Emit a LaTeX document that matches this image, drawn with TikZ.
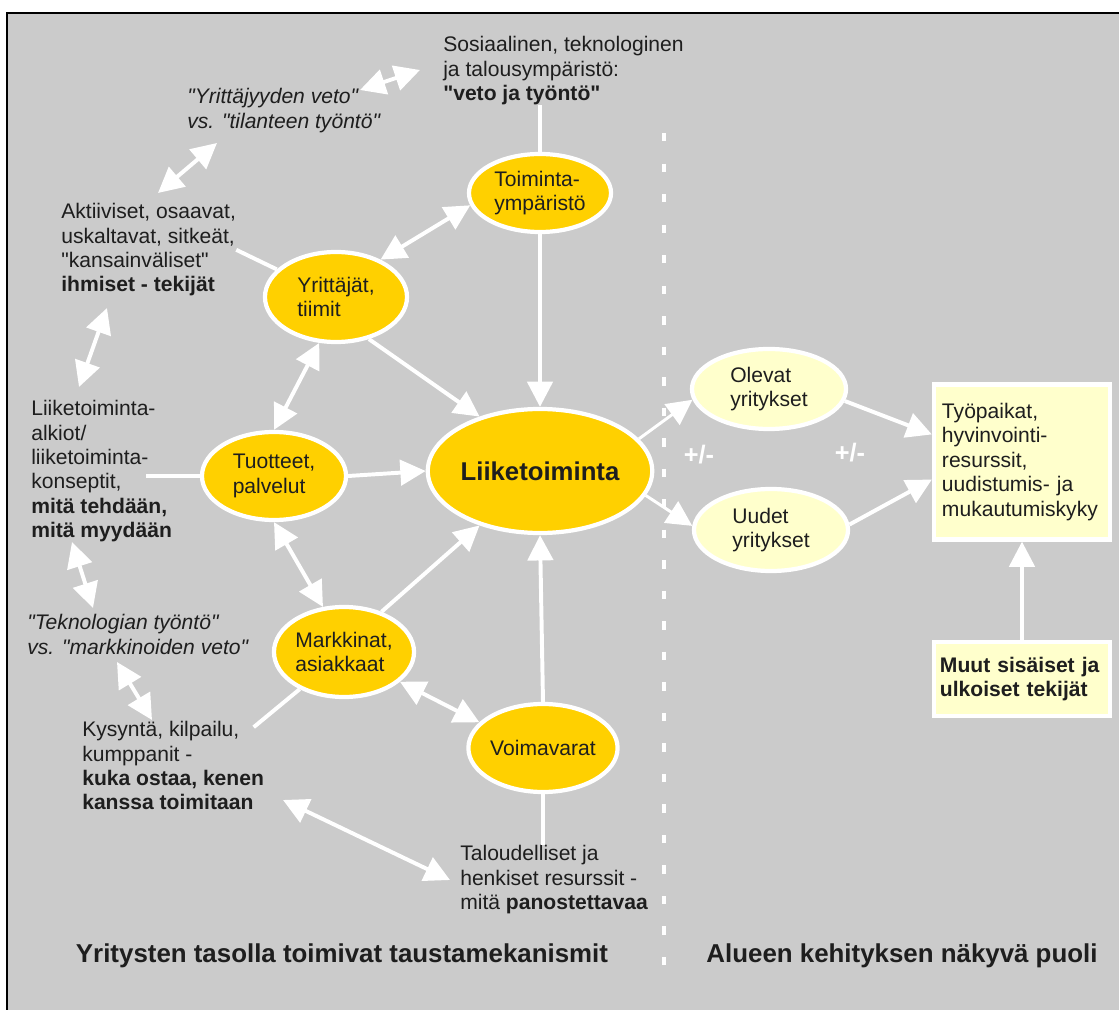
\documentclass[tikz,border=0pt]{standalone}
\usepackage{fontspec}
\setmainfont{Liberation Sans}
\usetikzlibrary{shapes.geometric}
\usetikzlibrary{arrows.meta}
\definecolor{bg-gray}{RGB}{203, 203, 203}
\definecolor{biz-yellow}{RGB}{255, 208, 0}
\definecolor{pale-yellow}{RGB}{255, 255, 204}
\definecolor{ink}{RGB}{30, 30, 30}
\newcommand{\qt}{\textquotedbl}

\tikzset{
    every node/.style={font=\fontsize{15}{17.4}\selectfont, text=ink},
    slant/.style={font=\fontsize{15}{17.4}\selectfont\itshape},
    blob/.style={ellipse, draw=white, line width=3pt, fill=biz-yellow, inner sep=0pt, align=left},
    paleblob/.style={blob, fill=pale-yellow},
    palebox/.style={rectangle, draw=white, line width=3pt, fill=pale-yellow, inner sep=0pt, align=left},
    note/.style={anchor=north west, inner sep=0pt, align=left},
    conn/.style={draw=white, line width=2.8pt},
    arr/.style={conn, -{Triangle[length=18pt, width=18pt]}},
    dbl/.style={conn, {Triangle[length=18pt, width=18pt]}-{Triangle[length=18pt, width=18pt]}},
}

\begin{document}
\begin{tikzpicture}[x=0.025cm, y=-0.025cm]
                \useasboundingbox (0, 0) rectangle (1119, 1010);
                \clip (0, 0) rectangle (1119, 1010);
                \filldraw[fill=bg-gray, draw=black, line width=2pt] (7, 13) rectangle (1140, 1030);
                \draw[white, line width=3.4pt, dash pattern=on 6pt off 15.7pt] (664, 133) -- (664, 975);

                \node[blob, minimum width=3.55cm, minimum height=1.95cm] (tym) at (540, 193) {Toiminta-\\ympäristö};
                \node[blob, minimum width=3.55cm, minimum height=2.25cm] (yri) at (336, 297) {Yrittäjät,\\tiimit};
                \node[blob, minimum width=3.6cm, minimum height=2.2cm] (tuo) at (274, 476) {Tuotteet,\\palvelut};
                \node[blob, minimum width=3.5cm, minimum height=2.25cm] (mar) at (344, 652) {Markkinat,\\asiakkaat};
                \node[blob, minimum width=3.65cm, minimum height=2.2cm] (voi) at (543, 748) {Voimavarat};
                \node[blob, minimum width=4.95cm, minimum height=3.1cm, font=\fontsize{18.3}{20}\selectfont\bfseries] (liik) at (540, 471) {Liiketoiminta};
                \node[paleblob, minimum width=3.85cm, minimum height=2.0cm] (ole) at (769, 389) {Olevat\\yritykset};
                \node[paleblob, minimum width=3.85cm, minimum height=2.05cm] (uud) at (771, 530) {Uudet\\yritykset};
                \node[palebox, minimum width=4.4cm, minimum height=3.875cm, text width=4.0cm] (tp) at (1022, 462) {Työpaikat,\\hyvinvointi-\\resurssit,\\uudistumis- ja\\mukautumiskyky};
                \node[palebox, minimum width=4.4cm, minimum height=1.85cm, text width=4.1cm, font=\fontsize{15}{17.4}\selectfont\bfseries] (muut) at (1022, 679) {Muut sisäiset ja\\ulkoiset tekijät};

                \node[note] (soc) at (443, 36) {Sosiaalinen, teknologinen\\ja talousympäristö:\\\textbf{\qt veto ja työntö\qt}};
                \node[note, slant] (yv) at (187, 88) {\qt Yrittäjyyden veto\qt\\vs. \qt tilanteen työntö\qt};
                \node[note] (akt) at (61, 203) {Aktiiviset, osaavat,\\uskaltavat, sitkeät,\\\qt kansainväliset\qt\\\textbf{ihmiset - tekijät}};
                \node[note] (alk) at (31, 400) {Liiketoiminta-\\alkiot/\\liiketoiminta-\\konseptit,\\\textbf{mitä tehdään,}\\\textbf{mitä myydään}};
                \node[note, slant] (tek) at (27, 614) {\qt Teknologian työntö\qt\\vs. \qt markkinoiden veto\qt};
                \node[note] (kys) at (82, 721) {Kysyntä, kilpailu,\\kumppanit -\\\textbf{kuka ostaa, kenen}\\\textbf{kanssa toimitaan}};
                \node[note] (tal) at (460, 845) {Taloudelliset ja\\henkiset resurssit -\\mitä \textbf{panostettavaa}};

                \node[font=\fontsize{18}{20}\selectfont\bfseries, text=white] (pm1) at (699, 455) {+/-};
                \node[font=\fontsize{18}{20}\selectfont\bfseries, text=white] (pm2) at (850, 453) {+/-};
                \node[anchor=base, font=\fontsize{18.4}{20}\selectfont\bfseries] (lefttitle) at (342, 962) {Yritysten tasolla toimivat taustamekanismit};
                \node[anchor=base, font=\fontsize{18.4}{20}\selectfont\bfseries] (righttitle) at (902, 962) {Alueen kehityksen näkyvä puoli};

                \coordinate (d1a) at (360, 90);
                \coordinate (d1b) at (420, 70);
                \coordinate (d2a) at (217, 143);
                \coordinate (d2b) at (158, 193);
                \coordinate (d3a) at (107, 308);
                \coordinate (d3b) at (79, 387);
                \coordinate (d4a) at (72, 542);
                \coordinate (d4b) at (93, 608);
                \coordinate (d5a) at (117, 662);
                \coordinate (d5b) at (152, 720);
                \coordinate (d6a) at (283, 800);
                \coordinate (d6b) at (450, 880);

                \draw[conn] (tym.north) -- (tym.north |- soc.south);
                \draw[conn] (akt.east) -- (yri.155);
                \draw[conn] (tuo.west) -- ++(-54, 0);
                \draw[conn] (mar.220) -- ++(-46, 38);
                \draw[conn] (voi.south) -- (voi.south |- tal.north);

                \draw[dbl] (d1a) -- (d1b);
                \draw[dbl] (d2a) -- (d2b);
                \draw[dbl] (d3a) -- (d3b);
                \draw[dbl] (d4a) -- (d4b);
                \draw[dbl] (d5a) -- (d5b);
                \draw[dbl] (d6a) -- (d6b);

                \draw[dbl] (yri.40) -- (tym.190);
                \draw[dbl] (yri.250) -- (tuo.90);
                \draw[dbl] (tuo.270) -- (mar.115);
                \draw[dbl] (mar.-28) -- (voi.158);

                \draw[arr] (yri.-52) -- (liik.138);
                \draw[arr] (tuo.east) -- (liik.west);
                \draw[arr] (mar.47) -- (liik.222);
                \draw[arr] (tym.south) -- (liik.north);
                \draw[arr] (voi.north) -- (liik.south);
                \draw[arr, line width=2.1pt] (liik.18) -- (ole.188);
                \draw[arr, line width=2.1pt] (liik.-13) -- (uud.177);
                \draw[arr] (ole.-9) -- (tp.163);
                \draw[arr] (uud.4) -- (tp.191);
                \draw[arr] (muut.north) -- (tp.south);
            \end{tikzpicture}
\end{document}
